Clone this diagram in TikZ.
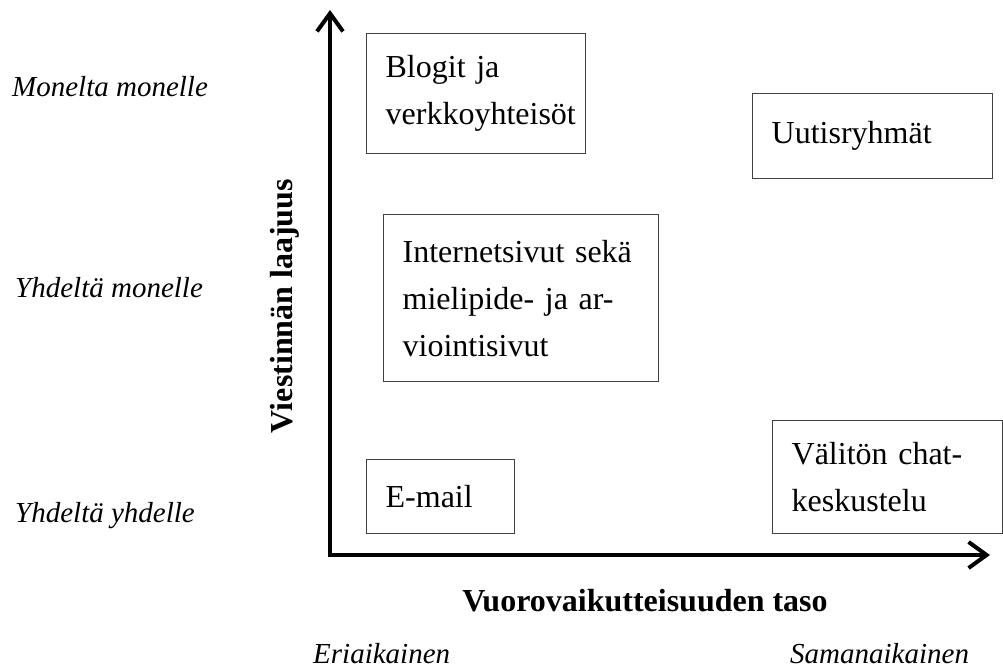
\documentclass[tikz,border=0pt]{standalone}
\usepackage{fontspec}
\setmainfont{Liberation Serif}
\usetikzlibrary{arrows.meta}
\begin{document}
\begin{tikzpicture}[x=1pt,y=-1pt,
  axis/.style={line width=4pt, {Straight Barb[length=18pt,width=26pt]}-{Straight Barb[length=18pt,width=26pt]}},
  itembox/.style={draw=black!75, line width=1.3pt, anchor=north west, align=left,
    inner xsep=19pt, inner ysep=0pt, font=\fontsize{32}{47}\selectfont},
  scalelabel/.style={anchor=base west, inner sep=0pt, font=\fontsize{29}{34}\selectfont\itshape},
  axislabel/.style={anchor=base, inner sep=0pt, font=\fontsize{32}{38}\selectfont\bfseries}]
\useasboundingbox (0,0) rectangle (1003,670);

% axes
\coordinate (origin) at (330,555);
\coordinate (ytip) at (330,10);
\coordinate (xtip) at (990,555);
\draw[axis] (ytip) -- (origin) -- (xtip);

% axis titles
\node[axislabel, rotate=90] (ylab) at (292,306) {Viestinnän laajuus};
\node[axislabel] (xlab) at (645,611) {Vuorovaikutteisuuden taso};

% scale labels
\node[scalelabel] (s1) at (12,96) {Monelta monelle};
\node[scalelabel] (s2) at (15,297) {Yhdeltä monelle};
\node[scalelabel] (s3) at (15,522) {Yhdeltä yhdelle};
\node[scalelabel] (t1) at (313,663) {Eriaikainen};
\node[scalelabel] (t2) at (790,663) {Samanaikainen};

% media boxes
\node[itembox, minimum width=219pt, minimum height=120pt, text width=181pt] (blog) at (366,33)
  {Blogit ja\\verkkoyhteisöt};
\node[itembox, minimum width=240pt, minimum height=85pt, text width=202pt] (news) at (752,93)
  {Uutisryhmät};
\node[itembox, minimum width=275pt, minimum height=167pt, text width=237pt] (web) at (383,214)
  {Internetsivut sekä\\mielipide- ja ar-\\viointisivut};
\node[itembox, minimum width=148pt, minimum height=74pt, text width=110pt] (mail) at (366,459)
  {E-mail};
\node[itembox, minimum width=230pt, minimum height=113pt, text width=192pt] (chat) at (772,420)
  {Välitön chat-\\keskustelu};
\end{tikzpicture}
\end{document}
